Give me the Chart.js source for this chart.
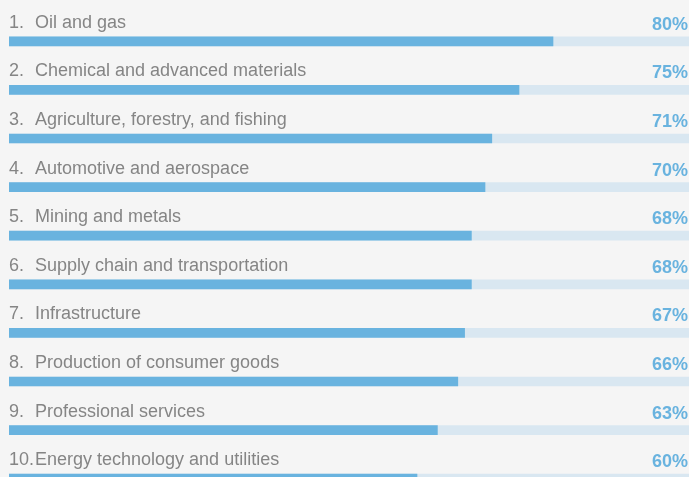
<!DOCTYPE html>
<html>
<head>
<meta charset="utf-8">
<script src="https://cdn.jsdelivr.net/npm/chart.js@4"></script>
<style>
    html, body { margin: 0; padding: 0; background: #f5f5f5; overflow: hidden; }
    #wrap { position: relative; width: 689px; height: 503px; }
</style>
</head>
<body>
<div id="wrap"><canvas id="chart"></canvas></div>
<script>
// ================= DATA =================
const categories = [
    "Oil and gas",
    "Chemical and advanced materials",
    "Agriculture, forestry, and fishing",
    "Automotive and aerospace",
    "Mining and metals",
    "Supply chain and transportation",
    "Infrastructure",
    "Production of consumer goods",
    "Professional services",
    "Energy technology and utilities"
];
const values = [80, 75, 71, 70, 68, 68, 67, 66, 63, 60];
const trackValues = [100, 100, 100, 100, 100, 100, 100, 100, 100, 100];

const BAR_COLOR = "#69b3df";
const TRACK_COLOR = "#d9e7f1";
const TEXT_GRAY = "#858585";

// ================= LABELS PLUGIN =================
const labelPlugin = {
    id: "rowLabels",
    afterDatasetsDraw(chart) {
        const ctx = chart.ctx;
        const yScale = chart.scales.y;
        ctx.save();
        ctx.textBaseline = "alphabetic";
        categories.forEach((name, i) => {
            const y = yScale.getPixelForValue(i);

            // row label
            ctx.font = "18px 'Liberation Sans', Arial, sans-serif";
            ctx.fillStyle = TEXT_GRAY;
            ctx.textAlign = "left";
            ctx.fillText((i + 1) + ".", 9, y - 13.5);
            ctx.fillText(name, 35, y - 13.5);

            // percentage on the right
            ctx.font = "bold 18px 'Liberation Sans', Arial, sans-serif";
            ctx.fillStyle = BAR_COLOR;
            ctx.textAlign = "right";
            ctx.fillText(values[i] + "%", 688, y - 11.5);
        });
        ctx.restore();
    }
};

// ================= CHART =================
const ctx = document.getElementById("chart").getContext("2d");

new Chart(ctx, {
    type: "bar",
    data: {
        labels: categories,
        datasets: [
            {
                data: values,
                backgroundColor: BAR_COLOR,
                barThickness: 9,
                grouped: false,
                order: 0
            },
            {
                data: trackValues,
                backgroundColor: TRACK_COLOR,
                barThickness: 9,
                grouped: false,
                order: 1
            }
        ]
    },
    options: {
        indexAxis: "y",
        responsive: true,
        maintainAspectRatio: false,
        animation: false,
        layout: {
            padding: { top: 17, bottom: 0, left: 9, right: 0 }
        },
        plugins: {
            legend: { display: false },
            tooltip: { enabled: false }
        },
        scales: {
            x: {
                min: 0,
                max: 100,
                display: false
            },
            y: {
                display: false
            }
        }
    },
    plugins: [labelPlugin]
});
</script>
</body>
</html>
